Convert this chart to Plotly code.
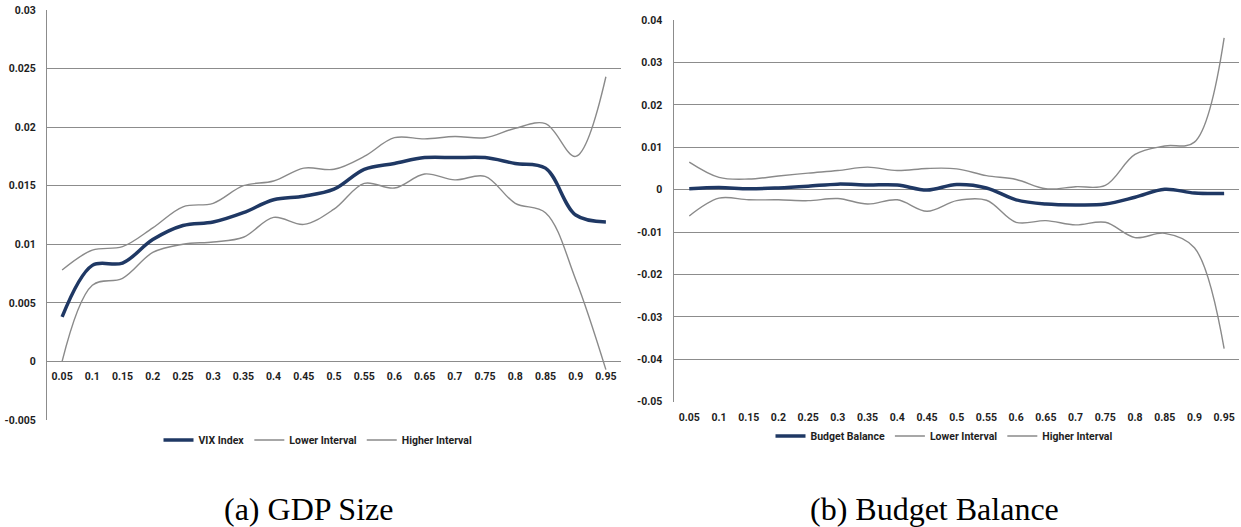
import plotly.graph_objects as go

# ---------------- data ----------------
quantiles = [0.05, 0.1, 0.15, 0.2, 0.25, 0.3, 0.35, 0.4, 0.45, 0.5,
             0.55, 0.6, 0.65, 0.7, 0.75, 0.8, 0.85, 0.9, 0.95]
x_tick_labels = ["0.05", "0.1", "0.15", "0.2", "0.25", "0.3", "0.35", "0.4", "0.45", "0.5",
                 "0.55", "0.6", "0.65", "0.7", "0.75", "0.8", "0.85", "0.9", "0.95"]
tick_boundaries = [0.025, 0.075, 0.125, 0.175, 0.225, 0.275, 0.325, 0.375, 0.425, 0.475,
                   0.525, 0.575, 0.625, 0.675, 0.725, 0.775, 0.825, 0.875, 0.925, 0.975]

# (a) GDP Size
vix_index = [0.0038, 0.0082, 0.0084, 0.0104, 0.0116, 0.0119, 0.0127, 0.0138, 0.0141, 0.0147,
             0.0164, 0.0169, 0.0174, 0.0174, 0.0174, 0.0169, 0.0165, 0.0125, 0.0119]
vix_lower = [0.0000, 0.0065, 0.0071, 0.0093, 0.0100, 0.0102, 0.0106, 0.0123, 0.0117, 0.0130,
             0.0152, 0.0148, 0.0160, 0.0155, 0.0158, 0.0135, 0.0127, 0.0070, -0.0007]
vix_higher = [0.0078, 0.0095, 0.0098, 0.0114, 0.0132, 0.0135, 0.0150, 0.0154, 0.0165, 0.0164,
              0.0175, 0.0191, 0.0190, 0.0192, 0.0191, 0.0199, 0.0203, 0.0175, 0.0243]
left_y_ticks = [-0.005, 0, 0.005, 0.01, 0.015, 0.02, 0.025, 0.03]
left_y_labels = ["-0.005", "0", "0.005", "0.01", "0.015", "0.02", "0.025", "0.03"]

# (b) Budget Balance
budget_balance = [0.0002, 0.0005, 0.0002, 0.0004, 0.0008, 0.0013, 0.0011, 0.0011, -0.0001, 0.0012,
                  0.0004, -0.0024, -0.0034, -0.0036, -0.0034, -0.0018, 0.0001, -0.0008, -0.0009]
budget_lower = [-0.0062, -0.0020, -0.0024, -0.0024, -0.0026, -0.0021, -0.0034, -0.0024, -0.0051, -0.0026,
                -0.0025, -0.0077, -0.0073, -0.0083, -0.0077, -0.0113, -0.0103, -0.0137, -0.0375]
budget_higher = [0.0065, 0.0029, 0.0025, 0.0032, 0.0039, 0.0045, 0.0053, 0.0045, 0.0050, 0.0049,
                 0.0033, 0.0024, 0.0002, 0.0007, 0.0010, 0.0083, 0.0103, 0.0112, 0.0358]
right_y_ticks = [-0.05, -0.04, -0.03, -0.02, -0.01, 0, 0.01, 0.02, 0.03, 0.04]
right_y_labels = ["-0.05", "-0.04", "-0.03", "-0.02", "-0.01", "0", "0.01", "0.02", "0.03", "0.04"]

# ---------------- style ----------------
NAVY = "#1f3864"
GRAY = "#8a8a8a"
GRID = "#8c8c8c"
TXT = "#1e1e1e"
TICKFONT = dict(family="Liberation Sans Narrow, Roboto, Arial", size=10.5, color=TXT, weight="bold")
X_RANGE = [0.025, 0.975]

L_DOM_X = [47 / 1241, 621 / 1241]
L_DOM_Y = [1 - 420 / 527, 1 - 10 / 527]
R_DOM_X = [674.4 / 1241, 1239 / 1241]
R_DOM_Y = [1 - 401.7 / 527, 1 - 20 / 527]


def zero_pos(dom, rng):
    return dom[0] + (0 - rng[0]) / (rng[1] - rng[0]) * (dom[1] - dom[0])


L_RANGE = [-0.005, 0.03]
R_RANGE = [-0.05, 0.04]
L_ZERO = zero_pos(L_DOM_Y, L_RANGE)
R_ZERO = zero_pos(R_DOM_Y, R_RANGE)

fig = go.Figure()

fig.add_trace(go.Scatter(x=quantiles, y=vix_index, name="VIX Index", mode="lines",
                         line=dict(color=NAVY, width=3.5, shape="spline"),
                         xaxis="x", yaxis="y", legend="legend"))
fig.add_trace(go.Scatter(x=quantiles, y=vix_lower, name="Lower Interval", mode="lines",
                         line=dict(color=GRAY, width=1.4, shape="spline"),
                         xaxis="x", yaxis="y", legend="legend"))
fig.add_trace(go.Scatter(x=quantiles, y=vix_higher, name="Higher Interval", mode="lines",
                         line=dict(color=GRAY, width=1.4, shape="spline"),
                         xaxis="x", yaxis="y", legend="legend"))

fig.add_trace(go.Scatter(x=quantiles, y=budget_balance, name="Budget Balance", mode="lines",
                         line=dict(color=NAVY, width=3.5, shape="spline"),
                         xaxis="x2", yaxis="y2", legend="legend2"))
fig.add_trace(go.Scatter(x=quantiles, y=budget_lower, name="Lower Interval", mode="lines",
                         line=dict(color=GRAY, width=1.4, shape="spline"),
                         xaxis="x2", yaxis="y2", legend="legend2"))
fig.add_trace(go.Scatter(x=quantiles, y=budget_higher, name="Higher Interval", mode="lines",
                         line=dict(color=GRAY, width=1.4, shape="spline"),
                         xaxis="x2", yaxis="y2", legend="legend2"))

legend_font = dict(family="Liberation Sans Narrow, Roboto, Arial", size=10.5, color=TXT, weight="bold")

fig.update_layout(
    width=1241, height=527,
    margin=dict(l=0, r=0, t=0, b=0, autoexpand=False),
    paper_bgcolor="white", plot_bgcolor="white",
    showlegend=True,
    xaxis=dict(domain=L_DOM_X, anchor="free", position=L_ZERO, range=X_RANGE,
               tickmode="array", tickvals=quantiles, ticktext=x_tick_labels,
               ticks="", showgrid=False, showline=False, zeroline=False, automargin=False,
               tickfont=TICKFONT, ticklabelstandoff=7),
    xaxis3=dict(overlaying="x", anchor="free", position=L_ZERO, range=X_RANGE,
                tickmode="array", tickvals=tick_boundaries, ticks="outside", ticklen=4,
                tickcolor=GRID, showticklabels=False, showgrid=False, showline=True,
                linecolor=GRID, zeroline=False, automargin=False),
    yaxis=dict(domain=L_DOM_Y, anchor="x", range=L_RANGE, tickmode="array",
               tickvals=left_y_ticks, ticktext=left_y_labels,
               showgrid=True, gridcolor=GRID, gridwidth=1, showline=True, linecolor=GRID,
               zeroline=False, ticks="", tickfont=TICKFONT, ticklabelstandoff=8,
               automargin=False),
    xaxis2=dict(domain=R_DOM_X, anchor="y2", range=X_RANGE,
                tickmode="array", tickvals=quantiles, ticktext=x_tick_labels,
                ticks="", showgrid=False, showline=False, zeroline=False, automargin=False,
                tickfont=TICKFONT, ticklabelstandoff=8),
    xaxis4=dict(overlaying="x2", anchor="free", position=R_ZERO, range=X_RANGE,
                tickmode="array", tickvals=tick_boundaries, ticks="outside", ticklen=4,
                tickcolor=GRID, showticklabels=False, showgrid=False, showline=True,
                linecolor=GRID, zeroline=False, automargin=False),
    yaxis2=dict(domain=R_DOM_Y, anchor="x2", range=R_RANGE, tickmode="array",
                tickvals=right_y_ticks, ticktext=right_y_labels,
                showgrid=True, gridcolor=GRID, gridwidth=1, showline=True, linecolor=GRID,
                zeroline=False, ticks="", tickfont=TICKFONT, ticklabelstandoff=9,
                automargin=False),
    legend=dict(orientation="h", x=318 / 1241, xanchor="center", y=1 - 440 / 527,
                yanchor="middle", font=legend_font, bgcolor="rgba(0,0,0,0)",
                itemwidth=30, tracegroupgap=0),
    legend2=dict(orientation="h", x=944 / 1241, xanchor="center", y=1 - 436 / 527,
                 yanchor="middle", font=legend_font, bgcolor="rgba(0,0,0,0)",
                 itemwidth=30, tracegroupgap=0),
    annotations=[
        dict(text="(a) GDP Size", x=308 / 1241, y=1 - 509 / 527, xref="paper", yref="paper",
             xanchor="center", yanchor="middle", showarrow=False,
             font=dict(family="Liberation Serif, DejaVu Serif, serif", size=32, color="black")),
        dict(text="(b) Budget Balance", x=934 / 1241, y=1 - 509 / 527, xref="paper", yref="paper",
             xanchor="center", yanchor="middle", showarrow=False,
             font=dict(family="Liberation Serif, DejaVu Serif, serif", size=32, color="black")),
    ],
)

fig.write_html("out.html")
